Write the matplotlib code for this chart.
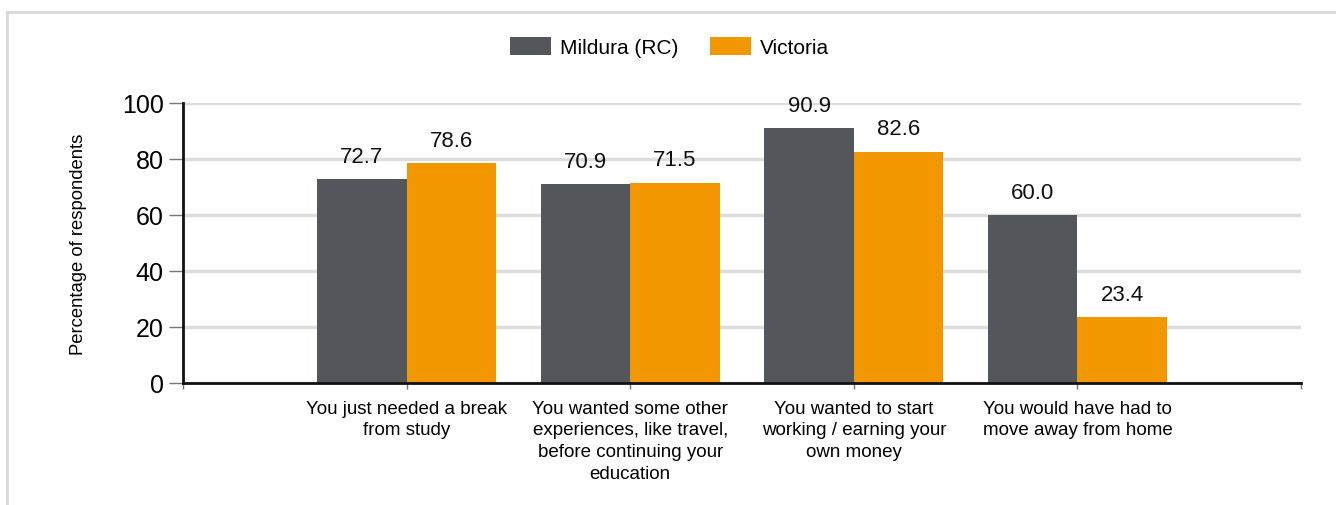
import matplotlib.pyplot as plt
import numpy as np
from matplotlib.lines import Line2D

categories = [
    "You just needed a break\nfrom study",
    "You wanted some other\nexperiences, like travel,\nbefore continuing your\neducation",
    "You wanted to start\nworking / earning your\nown money",
    "You would have had to\nmove away from home",
]
mildura = [72.7, 70.9, 90.9, 60.0]
victoria = [78.6, 71.5, 82.6, 23.4]
series_names = ["Mildura (RC)", "Victoria"]

plt.rcParams["font.family"] = ["Liberation Sans", "DejaVu Sans"]

fig = plt.figure(figsize=(13.36, 5.06), dpi=100)
ax = fig.add_axes([183 / 1336, 1 - 384 / 506, (1301 - 183) / 1336, 280 / 506])

x = np.arange(1, len(categories) + 1)
w = 0.4
b1 = ax.bar(x - w / 2, mildura, w, color="#53565a", label=series_names[0], zorder=2)
b2 = ax.bar(x + w / 2, victoria, w, color="#f39700", label=series_names[1], zorder=2)

for bars in (b1, b2):
    for r in bars:
        ax.annotate(f"{r.get_height():.1f}", (r.get_x() + r.get_width() / 2, r.get_height()),
                    xytext=(0, 12.5), textcoords="offset points", ha="center", va="baseline",
                    fontsize=16, color="#111111")

ax.set_xlim(0, 5)
ax.set_ylim(0, 100)
ax.set_yticks(np.arange(0, 101, 20))
ax.tick_params(axis="y", labelsize=18, length=10, width=1, color="#777777", pad=4)
ax.set_xticks(np.arange(0, 6))
ax.set_xticklabels([""] + categories + [""], fontsize=13.5, linespacing=1.37)
ax.tick_params(axis="x", length=4, width=1, color="#777777", pad=8)
ax.grid(axis="y", color="#dddddd", linewidth=2.5, zorder=0)
for s in ("top", "right"):
    ax.spines[s].set_visible(False)
for s in ("left", "bottom"):
    ax.spines[s].set_linewidth(2)
    ax.spines[s].set_color("#111111")
ax.set_ylabel("Percentage of respondents", fontsize=13.3, va="center")
ax.yaxis.set_label_coords((78 - 183) / 1118, 0.5)

fig.legend(loc="center", bbox_to_anchor=(669.5 / 1336, 1 - 48 / 506), ncol=2, frameon=False,
           fontsize=15, handlelength=2.0, handleheight=0.95, columnspacing=1.5, handletextpad=0.43)

fig.add_artist(Line2D([7 / 1336, 1], [1 - 13 / 506, 1 - 13 / 506], transform=fig.transFigure,
                      color="#d9d9d9", linewidth=2))
fig.add_artist(Line2D([7 / 1336, 7 / 1336], [0, 1 - 13 / 506], transform=fig.transFigure,
                      color="#d9d9d9", linewidth=2))

fig.savefig("out.png", dpi=100)
